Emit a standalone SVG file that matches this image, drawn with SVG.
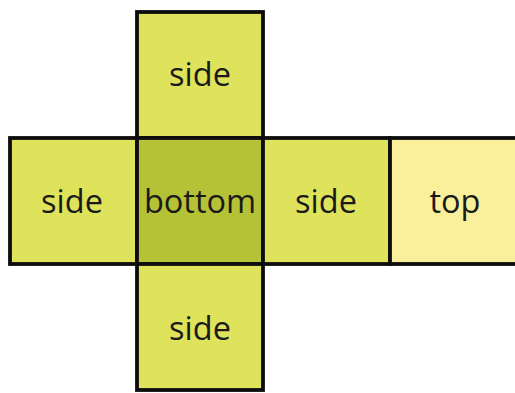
<svg xmlns="http://www.w3.org/2000/svg" width="515" height="393" viewBox="0 0 515 393">
<style>
.f{stroke:#0d0d0d;stroke-width:3.8}
.side{fill:#dfe35b}
.bottom{fill:#b6c236}
.top{fill:#faf09b}
text{font-family:"Open Sans","Noto Sans",sans-serif;font-size:32.5px;fill:#1a1a1a;text-anchor:middle}
</style>
<rect width="515" height="393" fill="#fff"/>
<g id="side-top"><rect class="f side" x="137" y="12" width="126" height="126"/><text x="200" y="86">side</text></g>
<g id="side-left"><rect class="f side" x="10" y="138" width="127" height="126"/><text x="72" y="213">side</text></g>
<g id="bottom"><rect class="f bottom" x="137" y="138" width="126" height="126"/><text x="200" y="213">bottom</text></g>
<g id="side-right"><rect class="f side" x="263" y="138" width="127" height="126"/><text x="326" y="213">side</text></g>
<g id="top"><rect class="f top" x="390" y="138" width="130" height="126"/><text x="455" y="213">top</text></g>
<g id="side-bottom"><rect class="f side" x="137" y="264" width="126" height="126"/><text x="200" y="340">side</text></g>
<g id="connectors"></g>
</svg>
